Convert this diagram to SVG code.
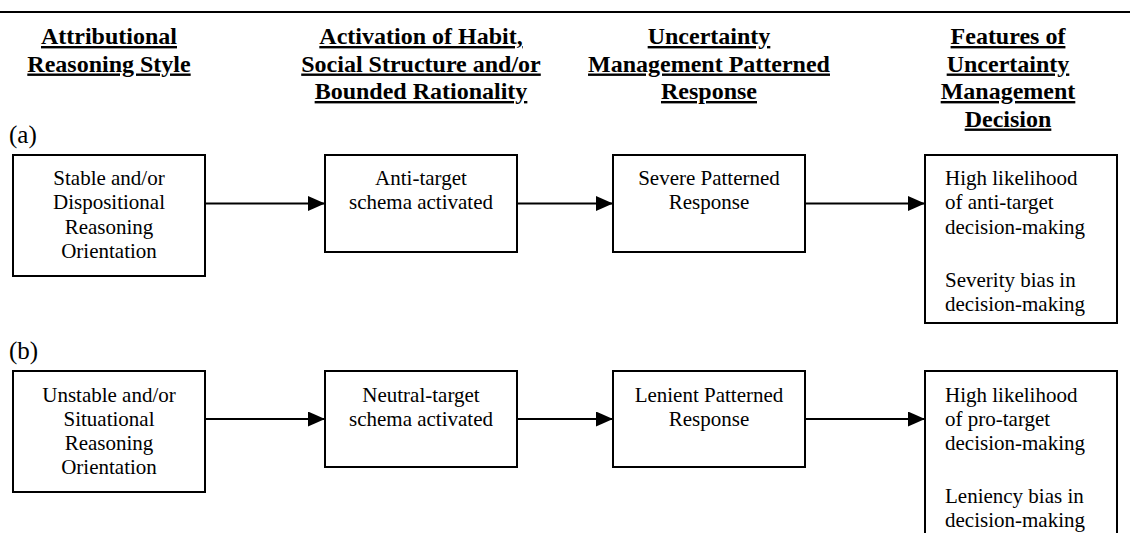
<svg xmlns="http://www.w3.org/2000/svg" width="1130" height="533" viewBox="0 0 1130 533">
  <style>
    text { font-family: "Liberation Serif", "Times New Roman", serif; fill: #000; }
    .head { font-size: 24px; font-weight: bold; text-anchor: middle; text-decoration: underline; text-decoration-thickness: 2.5px; text-underline-offset: 3px; }
    .tag { font-size: 25px; }
    .body { font-size: 21px; text-anchor: middle; }
    .left { font-size: 21px; text-anchor: start; }
    .box { fill: #fff; stroke: #000; stroke-width: 2; }
    .link { stroke: #000; stroke-width: 2; fill: none; marker-end: url(#arrow); }
  </style>
  <defs>
    <marker id="arrow" markerUnits="userSpaceOnUse" markerWidth="17" markerHeight="15" refX="17" refY="7.5" orient="auto">
      <path d="M0,0 L17,7.5 L0,15 z" fill="#000"/>
    </marker>
  </defs>

  <rect width="1130" height="533" fill="#fff"/>
  <line x1="0" y1="12" x2="1130" y2="12" stroke="#000" stroke-width="2"/>

  <!-- column headings -->
  <g id="headings">
    <text class="head" x="109" y="44">Attributional</text>
    <text class="head" x="109" y="71.5">Reasoning Style</text>
    <text class="head" x="421" y="44">Activation of Habit,</text>
    <text class="head" x="421" y="71.5">Social Structure and/or</text>
    <text class="head" x="421" y="99">Bounded Rationality</text>
    <text class="head" x="709" y="44">Uncertainty</text>
    <text class="head" x="709" y="71.5">Management Patterned</text>
    <text class="head" x="709" y="99">Response</text>
    <text class="head" x="1008" y="44">Features of</text>
    <text class="head" x="1008" y="71.5">Uncertainty</text>
    <text class="head" x="1008" y="99">Management</text>
    <text class="head" x="1008" y="126.5">Decision</text>
  </g>

  <text id="label-a" class="tag" x="9" y="143">(a)</text>
  <text id="label-b" class="tag" x="9" y="359">(b)</text>

  <!-- connectors -->
  <g id="connectors">
    <line class="link" x1="205" y1="203.5" x2="325" y2="203.5"/>
    <line class="link" x1="517" y1="203.5" x2="613" y2="203.5"/>
    <line class="link" x1="805" y1="203.5" x2="925" y2="203.5"/>
    <line class="link" x1="205" y1="419" x2="325" y2="419"/>
    <line class="link" x1="517" y1="419" x2="613" y2="419"/>
    <line class="link" x1="805" y1="419" x2="925" y2="419"/>
  </g>

  <!-- row (a) -->
  <g id="a-style">
    <rect class="box" x="13" y="155" width="192" height="121"/>
    <text class="body" x="109" y="185">Stable and/or</text>
    <text class="body" x="109" y="209.3">Dispositional</text>
    <text class="body" x="109" y="233.6">Reasoning</text>
    <text class="body" x="109" y="257.9">Orientation</text>
  </g>
  <g id="a-schema">
    <rect class="box" x="325" y="155" width="192" height="97"/>
    <text class="body" x="421" y="185">Anti-target</text>
    <text class="body" x="421" y="209.3">schema activated</text>
  </g>
  <g id="a-response">
    <rect class="box" x="613" y="155" width="192" height="97"/>
    <text class="body" x="709" y="185">Severe Patterned</text>
    <text class="body" x="709" y="209.3">Response</text>
  </g>
  <g id="a-decision">
    <rect class="box" x="925" y="155" width="192" height="168"/>
    <text class="left" x="945" y="185">High likelihood</text>
    <text class="left" x="945" y="209.3">of anti-target</text>
    <text class="left" x="945" y="233.6">decision-making</text>
    <text class="left" x="945" y="286.6">Severity bias in</text>
    <text class="left" x="945" y="310.9">decision-making</text>
  </g>

  <!-- row (b) -->
  <g id="b-style">
    <rect class="box" x="13" y="371" width="192" height="121"/>
    <text class="body" x="109" y="401.5">Unstable and/or</text>
    <text class="body" x="109" y="425.8">Situational</text>
    <text class="body" x="109" y="450.1">Reasoning</text>
    <text class="body" x="109" y="474.4">Orientation</text>
  </g>
  <g id="b-schema">
    <rect class="box" x="325" y="371" width="192" height="96"/>
    <text class="body" x="421" y="401.5">Neutral-target</text>
    <text class="body" x="421" y="425.8">schema activated</text>
  </g>
  <g id="b-response">
    <rect class="box" x="613" y="371" width="192" height="96"/>
    <text class="body" x="709" y="401.5">Lenient Patterned</text>
    <text class="body" x="709" y="425.8">Response</text>
  </g>
  <g id="b-decision">
    <rect class="box" x="925" y="371" width="192" height="172"/>
    <text class="left" x="945" y="401.5">High likelihood</text>
    <text class="left" x="945" y="425.8">of pro-target</text>
    <text class="left" x="945" y="450.1">decision-making</text>
    <text class="left" x="945" y="503.1">Leniency bias in</text>
    <text class="left" x="945" y="527.4">decision-making</text>
  </g>
</svg>
